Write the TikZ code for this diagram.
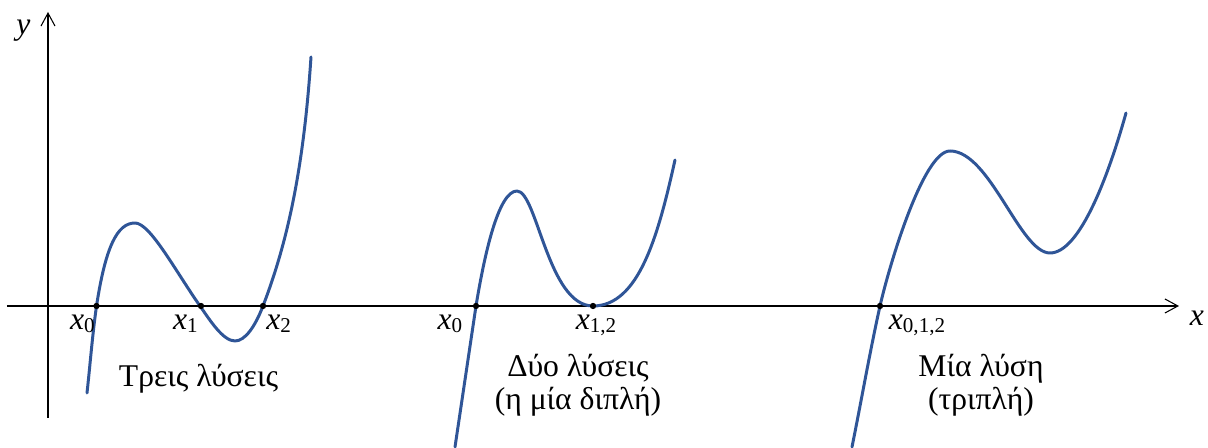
\documentclass[tikz,border=0pt]{standalone}
\usepackage{fontspec}
\setmainfont{Liberation Serif}
\usetikzlibrary{arrows.meta}
\definecolor{curveBlue}{RGB}{47,85,151}
\tikzset{
  axisln/.style={-{Straight Barb[length=7.4pt,width=8pt]}, line width=0.6pt},
  curveln/.style={line width=1.7pt, curveBlue, line cap=round, line join=round},
  rootdot/.style={circle, fill=black, inner sep=0pt, minimum size=3.6pt},
  rootlbl/.style={anchor=base, inner sep=0pt, font=\fontsize{18}{20}\selectfont},
  capt/.style={anchor=base, inner sep=0pt, font=\fontsize{18}{20}\selectfont},
}
\newcommand{\xr}[1]{\textit{x}\raisebox{-1.7pt}{\fontsize{12}{12}\selectfont #1}}

\begin{document}
\begin{tikzpicture}[x=0.02cm, y=0.02cm]
    \useasboundingbox (-48,-142) rectangle (1160,306);
    % axes
    \coordinate (xstart) at (-41,0);
    \coordinate (xend) at (1131,0);
    \coordinate (ystart) at (0,-112);
    \coordinate (yend) at (0,294);
    \draw[axisln] (xstart) -- (xend);
    \draw[axisln] (ystart) -- (yend);
    \node[rootlbl] (xlab) at (1149,-20) {\textit{x}};
    \node[rootlbl] (ylab) at (-24.5,271) {\textit{y}};
    % three roots
    \draw[curveln] (39,-87) .. controls (42.2,-58) and (44.4,-29) .. (48.5,0)
      .. controls (57.5,58.5) and (69,83) .. (87,83)
      .. controls (102,83) and (127,35.75) .. (152,0)
      .. controls (162,-14.3) and (175,-35) .. (187,-35)
      .. controls (197,-35) and (207,-20.8) .. (215,0)
      .. controls (240,65) and (255.7,139) .. (263,249);
    % one simple root, one double root
    \draw[curveln] (407,-141) .. controls (414,-94) and (421,-47) .. (428,0)
      .. controls (437,55) and (451,115) .. (469,115)
      .. controls (489,115) and (500,0) .. (545,0)
      .. controls (591,0) and (610.3,71) .. (627,146);
    % one triple root
    \draw[curveln] (804,-141) .. controls (813.5,-94) and (821.6,-47) .. (832,0)
      .. controls (840.8,38.7) and (875,155) .. (902,155)
      .. controls (942,155) and (972,53) .. (1002,53)
      .. controls (1032,53) and (1061,132) .. (1078,193);
    % roots
    \node[rootdot] (ra0) at (48.5,0) {};
    \node[rootdot] (ra1) at (153,0) {};
    \node[rootdot] (ra2) at (215,0) {};
    \node[rootdot] (rb0) at (428,0) {};
    \node[rootdot] (rb12) at (545,0) {};
    \node[rootdot] (rc012) at (832,0) {};
    \node[rootlbl] (la0) at (34.5,-24) {\xr{0}};
    \node[rootlbl] (la1) at (137.5,-24) {\xr{1}};
    \node[rootlbl] (la2) at (230.7,-24) {\xr{2}};
    \node[rootlbl] (lb0) at (402,-24) {\xr{0}};
    \node[rootlbl] (lb12) at (548,-24) {\xr{1,2}};
    \node[rootlbl] (lc012) at (869,-24) {\xr{0,1,2}};
    % captions
    \node[capt] (capa) at (150.5,-81) {Τρεις λύσεις};
    \node[capt] (capb) at (530,-71) {Δύο λύσεις};
    \node[capt] (capb2) at (530,-104) {(η μία διπλή)};
    \node[capt] (capc) at (933,-71) {Μία λύση};
    \node[capt] (capc2) at (933,-104) {(τριπλή)};
\end{tikzpicture}
\end{document}
